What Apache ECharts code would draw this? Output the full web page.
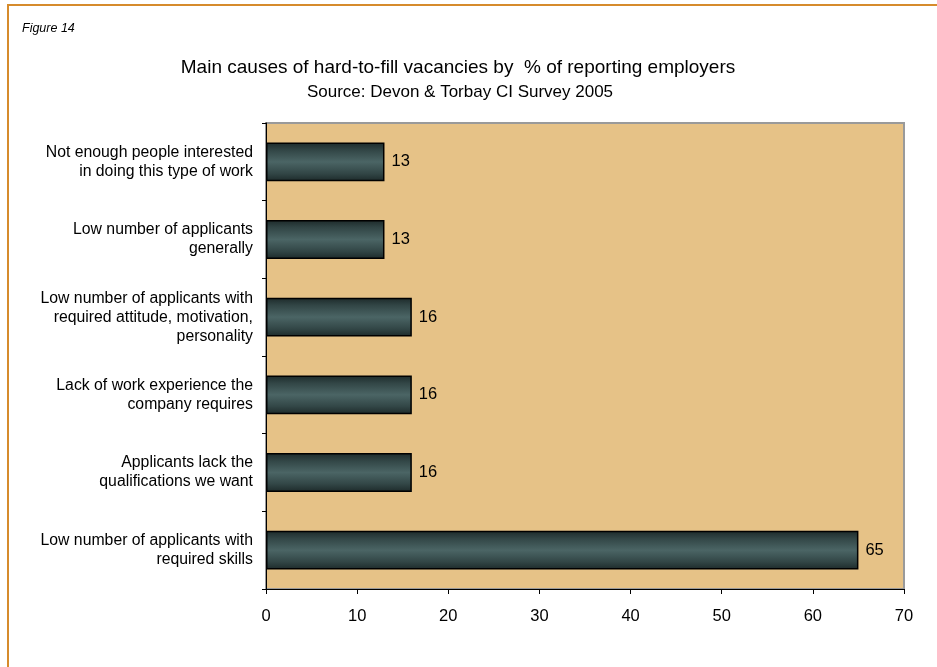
<!DOCTYPE html>
<html>
<head>
<meta charset="utf-8">
<script src="https://cdn.jsdelivr.net/npm/echarts@6/dist/echarts.min.js"></script>
<style>
  html, body { margin: 0; padding: 0; background: #ffffff; }
  #chart { width: 937px; height: 667px; }
</style>
</head>
<body>
<div id="chart"></div>
<script>
// Causes, listed top to bottom
const causes = [
  'Not enough people interested\nin doing this type of work',
  'Low number of applicants\ngenerally',
  'Low number of applicants with\nrequired attitude, motivation,\npersonality',
  'Lack of work experience the\ncompany requires',
  'Applicants lack the\nqualifications we want',
  'Low number of applicants with\nrequired skills'
];
// Percentage of reporting employers
const percentages = [13, 13, 16, 16, 16, 65];
const xTicks = { min: 0, max: 70, interval: 10 };

const chart = echarts.init(document.getElementById('chart'), null, { renderer: 'canvas' });

const barFill = new echarts.graphic.LinearGradient(0, 0, 0, 1, [
  { offset: 0, color: '#1d2a2a' },
  { offset: 0.2, color: '#324646' },
  { offset: 0.5, color: '#4b6565' },
  { offset: 0.8, color: '#324646' },
  { offset: 1, color: '#1d2a2a' }
]);

const sans = 'Liberation Sans, Arial, sans-serif';

chart.setOption({
  animation: false,
  backgroundColor: '#ffffff',
  title: [
    {
      text: 'Main causes of hard-to-fill vacancies by  % of reporting employers',
      left: 453, top: 53, textAlign: 'center',
      textStyle: { fontFamily: sans, fontSize: 19, fontWeight: 'normal', color: '#000' }
    },
    {
      text: 'Source: Devon & Torbay CI Survey 2005',
      left: 455, top: 79, textAlign: 'center',
      textStyle: { fontFamily: sans, fontSize: 17, fontWeight: 'normal', color: '#000' }
    },
    {
      text: 'Figure 14',
      left: 17, top: 17,
      textStyle: { fontFamily: 'Liberation Sans Narrow, Liberation Sans, Arial, sans-serif', fontStyle: 'italic', fontSize: 12.5, fontWeight: 'normal', color: '#000' }
    }
  ],
  graphic: [
    { type: 'rect', shape: { x: 7, y: 4, width: 930, height: 2 }, style: { fill: '#d68b2c' }, silent: true },
    { type: 'rect', shape: { x: 7, y: 4, width: 2, height: 663 }, style: { fill: '#d68b2c' }, silent: true }
  ],
  grid: {
    left: 266, top: 123, width: 638, height: 466,
    show: true, backgroundColor: '#e6c287', borderColor: '#9a9a9a', borderWidth: 2
  },
  xAxis: {
    type: 'value',
    min: xTicks.min, max: xTicks.max, interval: xTicks.interval,
    axisLine: { show: true, lineStyle: { color: '#000', width: 1 } },
    axisTick: { show: true, length: 5, lineStyle: { color: '#000' } },
    splitLine: { show: false },
    axisLabel: { margin: 19, fontFamily: sans, fontSize: 16.5, color: '#000' }
  },
  yAxis: {
    type: 'category',
    data: causes,
    inverse: true,
    axisLine: { show: true, lineStyle: { color: '#000', width: 1 } },
    axisTick: { show: true, length: 4, alignWithLabel: false, lineStyle: { color: '#000' } },
    axisLabel: {
      margin: 13, fontFamily: sans, fontSize: 15.8, lineHeight: 19,
      color: '#000', align: 'right'
    }
  },
  series: [{
    type: 'bar',
    data: percentages,
    barCategoryGap: '50%',
    itemStyle: { color: barFill, borderColor: '#000', borderWidth: 1.5 },
    label: {
      show: true, position: 'right', distance: 7,
      fontFamily: sans, fontSize: 16.5, color: '#000'
    }
  }]
});
</script>
</body>
</html>
